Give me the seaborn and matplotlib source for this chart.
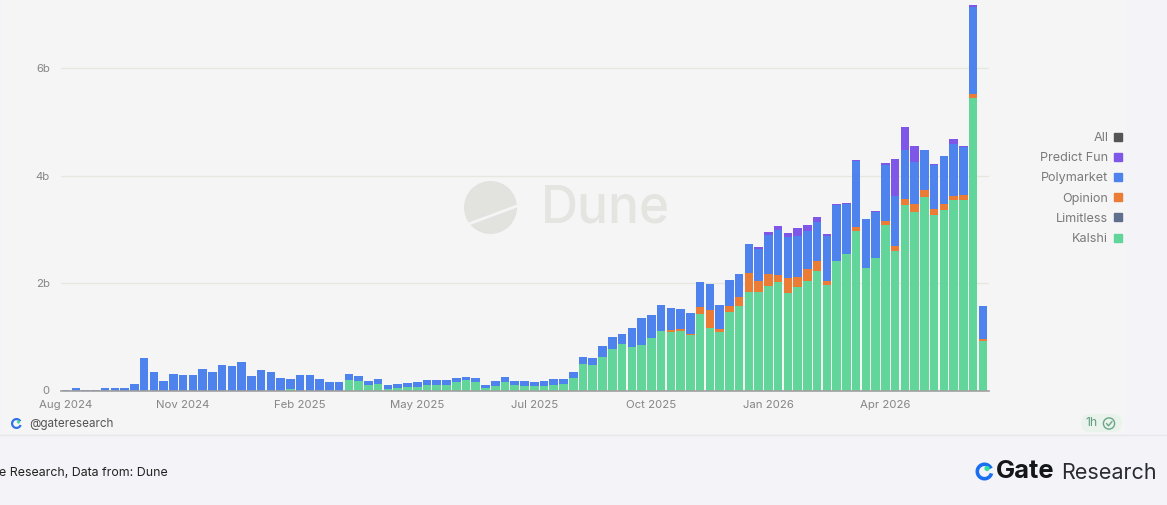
import matplotlib
matplotlib.use("Agg")
import matplotlib.pyplot as plt
import seaborn as sns
import pandas as pd
from matplotlib.lines import Line2D
from matplotlib.patches import Circle, FancyBboxPatch, Rectangle, Wedge
from matplotlib.ticker import FuncFormatter

# weekly volume in billions
kalshi = [0] * 23 + [.02] + [0] * 5 + [
    .20, .17, .10, .12, .03, .04, .06, .07, .11, .11, .11, .16, .19, .155, .055, .09, .155, .11, .09, .075, .09,
    .11, .12, .24, .49, .48, .62, .78, .86, .81, .85, .97, 1.11, 1.09, 1.11, 1.03, 1.42, 1.165, 1.085, 1.47, 1.58,
    1.825, 1.825, 1.945, 2.02, 1.81, 1.93, 2.04, 2.23, 1.96, 2.41, 2.54, 2.97, 2.29, 2.46, 3.09, 2.60, 3.45, 3.33,
    3.61, 3.27, 3.37, 3.55, 3.55, 5.44, .92]
limitless = [0] * 95
opinion = [0] * 62 + [
    .03, .03, .03, .14, .335, .065, .10, .16, .355, .205, .23, .135, .28, .175, .22, .175, .07, .01, .01, .07,
    0, 0, .06, .09, .12, .15, .12, .11, .11, .08, .095, .08, .04]
polymarket = [
    .01, .04, .01, .015, .05, .05, .04, .12, .60, .34, .18, .30, .29, .29, .40, .35, .48, .46, .54, .27, .39, .35,
    .23, .19, .29, .29, .21, .15, .15, .11, .10, .08, .09, .07, .08, .08, .09, .09, .08, .08, .08, .06, .075, .055,
    .08, .105, .07, .09, .08, .08, .10, .10, .11, .14, .13, .20, .21, .20, .36, .50, .44, .49, .41, .37, .39, .46,
    .49, .445, .49, .43, .54, .61, .725, .835, .76, .775, .705, .725, .84, 1.04, .93, 1.23, .895, .855, 1.05, .93,
    .91, .78, .74, .825, .88, .96, .895, 1.63, .61]
predictFun = [0] * 71 + [
    .03, .06, .08, .08, .15, .115, .10, .05, .02, .01, .015, 0, .035, .04, .70, .43, .29, .015, .015, .01, .09,
    .01, .035, 0]

weeks = pd.date_range("2024-08-05", periods=95, freq="W-MON").strftime("%Y-%m-%d").tolist()
tickPositions = [0, 12, 24, 36, 48, 60, 72, 84]
tickLabels = ["Aug 2024", "Nov 2024", "Feb 2025", "May 2025", "Jul 2025", "Oct 2025", "Jan 2026", "Apr 2026"]
yTicks = [0, 2, 4, 6]

stackOrder = [
    ("Kalshi", kalshi, "#62d69a"),
    ("Limitless", limitless, "#5f6f8d"),
    ("Opinion", opinion, "#ea7c35"),
    ("Polymarket", polymarket, "#4e82ec"),
    ("Predict Fun", predictFun, "#7f57e8"),
]

sns.set_theme(style="white")
plt.rcParams["font.family"] = ["Inter", "DejaVu Sans"]

W, H = 1167, 505
fig = plt.figure(figsize=(W / 100, H / 100), dpi=100, facecolor="#f4f4f8")

# page furniture in pixel coordinates
deco = fig.add_axes([0, 0, 1, 1])
deco.set_xlim(0, W)
deco.set_ylim(H, 0)
deco.axis("off")
deco.add_patch(Rectangle((2, 0), 1123, 434, color="#f5f5f5", lw=0))
deco.plot([0, W], [434.5, 434.5], color="#e8e8e9", lw=1)

# Dune watermark
deco.add_patch(Circle((490.5, 207.5), 26.5, color="#e2e2df", lw=0))
deco.plot([466, 517], [225, 206], color="#f5f5f5", lw=2)
deco.text(541, 209, "Dune", fontsize=37, color="#e4e4e1", va="center", ha="left", fontweight="medium")

# bars
ax = fig.add_axes([61 / W, (H - 390.5) / H, (989 - 61) / W, 390.5 / H])
ax.patch.set_alpha(0)
bottom = [0] * 95
for name, values, color in stackOrder:
    sns.barplot(x=weeks, y=values, bottom=bottom, color=color, saturation=1, width=0.88, linewidth=0, ax=ax,
                order=weeks, errorbar=None)
    bottom = [b + v for b, v in zip(bottom, values)]

ax.set_xlim(-0.52, 94.62)
ax.set_ylim(0, 390.5 / 53.7)
ax.set_xticks(tickPositions)
ax.set_xticklabels(tickLabels, fontsize=8.2, color="#858585")
ax.set_yticks(yTicks)
ax.yaxis.set_major_formatter(FuncFormatter(lambda v, pos: "0" if v == 0 else f"{int(v)}b"))
ax.tick_params(axis="y", labelsize=8.2, labelcolor="#858585", length=0, pad=8)
ax.tick_params(axis="x", length=0, pad=7)
ax.set_xlabel("")
ax.set_ylabel("")
ax.grid(axis="y", color="#e7e7e2", lw=1)
ax.set_axisbelow(True)
sns.despine(ax=ax, left=True, top=True, right=True)
ax.spines["bottom"].set_color("#a0a0a0")
ax.spines["bottom"].set_linewidth(1.2)

# legend
legendNames = ["All", "Predict Fun", "Polymarket", "Opinion", "Limitless", "Kalshi"]
legendColors = ["#555555", "#7f57e8", "#4e82ec", "#ea7c35", "#5f6f8d", "#62d69a"]
handles = [Line2D([], [], ls="", marker="s", markersize=6.4, color=c) for c in legendColors]
fig.legend(handles, legendNames, loc="center right", bbox_to_anchor=(1124 / W, (H - 188.5) / H), frameon=False,
           markerfirst=False, alignment="right", fontsize=9.1, labelcolor="#7a7a7a", labelspacing=0.65,
           handlelength=1, handletextpad=0.25, borderpad=0, borderaxespad=0)

# handle under the chart
deco.add_patch(Wedge((16.5, 423.5), 5.5, 20, 330, width=2.2, color="#2f6fe8", lw=0))
deco.add_patch(Circle((18.5, 422), 1.6, color="#45d6a0", lw=0))
deco.text(29, 423.5, "@gateresearch", fontsize=8.4, color="#555555", va="center", ha="left")

# refresh badge
deco.add_patch(FancyBboxPatch((1081, 414), 41, 18, boxstyle="round,pad=0,rounding_size=9", color="#e9f3ec", lw=0))
deco.text(1085, 423.5, "1h", fontsize=8.8, color="#5f9c7c", va="center", ha="left")
deco.add_patch(Circle((1109, 423.5), 5.6, fc="none", ec="#6aa585", lw=1))
deco.plot([1106.5, 1108.5, 1112], [423.5, 425.8, 421.5], color="#6aa585", lw=1)

# footer
deco.text(-1, 472.5, "e Research, Data from: Dune", fontsize=8.9, color="#222222", va="center", ha="left")
deco.add_patch(Wedge((984.5, 471.5), 9, 15, 335, width=3.6, color="#1a6ff0", lw=0))
deco.add_patch(Circle((987, 468.5), 2.6, color="#2fe0a0", lw=0))
deco.text(995.5, 471.5, "Gate", fontsize=18.4, color="#15161a", va="center", ha="left", fontweight="bold")
deco.text(1061, 473, "Research", fontsize=15.5, color="#2a2b30", va="center", ha="left")

fig.savefig("out.png", dpi=100, facecolor=fig.get_facecolor())
